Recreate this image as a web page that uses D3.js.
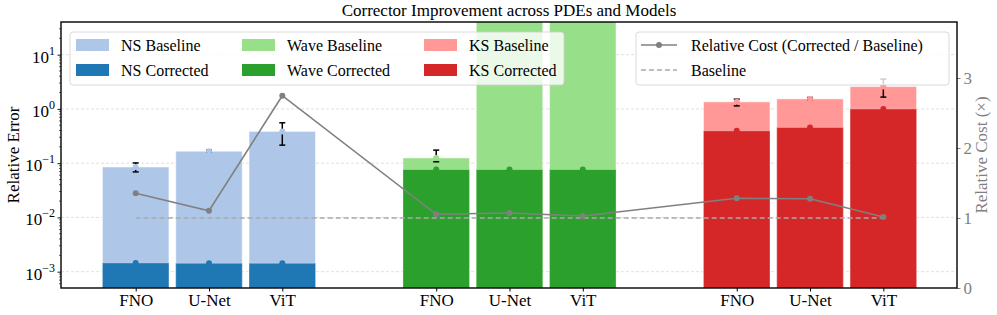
<!DOCTYPE html>
<html>
<head>
<meta charset="utf-8">
<script src="https://cdn.jsdelivr.net/npm/d3@7"></script>
<style>
  body { margin: 0; background: #fff; }
  svg { display: block; font-family: "Liberation Serif", "DejaVu Serif", serif; }
</style>
</head>
<body>
<svg id="chart"></svg>
<script>
const width = 997
const height = 315
const margin = { top: 22, right: 40, bottom: 27, left: 61 }

// data
const pdes = ['NS', 'Wave', 'KS']
const models = ['FNO', 'U-Net', 'ViT']
const baselineError = [
  [0.085, 0.166, 0.385],
  [0.125, 150, 150],
  [1.35, 1.53, 2.58]
]
const correctedError = [
  [0.00145, 0.00143, 0.00143],
  [0.0765, 0.0765, 0.0765],
  [0.395, 0.456, 1.0]
]
// error bar ranges [lo, hi] on the baseline values
const baselineRange = [
  [[0.069, 0.101], [0.159, 0.174], [0.215, 0.555]],
  [[0.106, 0.174], null, null],
  [[1.136, 1.51], [1.47, 1.62], [1.65, 3.55]]
]
const relativeCost = [
  [1.353, 1.104, 2.747],
  [1.053, 1.071, 1.029],
  [1.281, 1.276, 1.014]
]
const errorTicks = [1e-3, 1e-2, 1e-1, 1e0, 1e1]
const costTicks = [0, 1, 2, 3]

const lightColors = ['#aec7e8', '#98df8a', '#ff9896']
const darkColors = ['#1f77b4', '#2ca02c', '#d62728']
const costColor = '#808080'

const groupStep = 4.1
const rows = []
pdes.forEach((p, g) => {
  models.forEach((m, i) => {
    rows.push({
      pde: p, g, model: m, pos: g * groupStep + i,
      base: baselineError[g][i], corr: correctedError[g][i],
      range: baselineRange[g][i], cost: relativeCost[g][i]
    })
  })
})

const x = d3.scaleLinear().domain([-1.019, 11.205]).range([margin.left, width - margin.right])
const y = d3.scaleLog().domain([5e-4, 40]).range([height - margin.bottom, margin.top])
const yCost = d3.scaleLinear().domain([0, 3.8]).range([height - margin.bottom, margin.top])
const barW = x(0.907) - x(0)

const svg = d3.select('#chart').attr('width', width).attr('height', height)

svg.append('defs').append('clipPath').attr('id', 'plot-clip')
  .append('rect')
  .attr('x', margin.left).attr('y', margin.top)
  .attr('width', width - margin.left - margin.right)
  .attr('height', height - margin.top - margin.bottom)

// grid
svg.append('g').selectAll('line')
  .data(errorTicks)
  .enter().append('line')
  .attr('x1', margin.left).attr('x2', width - margin.right)
  .attr('y1', d => y(d)).attr('y2', d => y(d))
  .attr('stroke', '#d8d8d8').attr('stroke-width', 0.8)
  .attr('stroke-dasharray', '3,2')

const plot = svg.append('g').attr('clip-path', 'url(#plot-clip)')

plot.append('g').selectAll('rect')
  .data(rows)
  .enter().append('rect')
  .attr('x', d => x(d.pos) - barW / 2)
  .attr('width', barW)
  .attr('y', d => y(d.base))
  .attr('height', d => y.range()[0] - y(d.base))
  .attr('fill', d => lightColors[d.g])
  .attr('stroke', '#fff').attr('stroke-opacity', 0.5).attr('stroke-width', 1)

plot.append('g').selectAll('rect')
  .data(rows)
  .enter().append('rect')
  .attr('x', d => x(d.pos) - barW / 2)
  .attr('width', barW)
  .attr('y', d => y(d.corr))
  .attr('height', d => y.range()[0] - y(d.corr))
  .attr('fill', d => darkColors[d.g])
  .attr('stroke', '#fff').attr('stroke-opacity', 0.3).attr('stroke-width', 1)

// error bars
const err = plot.append('g').attr('stroke', '#000').attr('stroke-width', 1.5)
rows.filter(d => d.range).forEach(d => {
  const cx = x(d.pos)
  err.append('line').attr('x1', cx).attr('x2', cx).attr('y1', y(d.range[0])).attr('y2', y(d.range[1]))
  err.append('line').attr('x1', cx - 3).attr('x2', cx + 3).attr('y1', y(d.range[0])).attr('y2', y(d.range[0]))
  err.append('line').attr('x1', cx - 3).attr('x2', cx + 3).attr('y1', y(d.range[1])).attr('y2', y(d.range[1]))
})

// value dots
plot.append('g').selectAll('circle')
  .data(rows)
  .enter().append('circle')
  .attr('cx', d => x(d.pos)).attr('cy', d => y(d.base)).attr('r', 3)
  .attr('fill', d => lightColors[d.g])
plot.append('g').selectAll('circle')
  .data(rows)
  .enter().append('circle')
  .attr('cx', d => x(d.pos)).attr('cy', d => y(d.corr)).attr('r', 3)
  .attr('fill', d => darkColors[d.g])

// cost line
const first = rows[0].pos
const last = rows[rows.length - 1].pos
svg.append('line')
  .attr('x1', x(first)).attr('x2', x(last))
  .attr('y1', yCost(1)).attr('y2', yCost(1))
  .attr('stroke', '#aaaaaa').attr('stroke-width', 1.3)
  .attr('stroke-dasharray', '5,3')

svg.append('path')
  .datum(rows)
  .attr('fill', 'none')
  .attr('stroke', costColor).attr('stroke-width', 1.6)
  .attr('d', d3.line().x(d => x(d.pos)).y(d => yCost(d.cost)))
svg.append('g').selectAll('circle')
  .data(rows)
  .enter().append('circle')
  .attr('cx', d => x(d.pos)).attr('cy', d => yCost(d.cost)).attr('r', 3)
  .attr('fill', costColor)

// left axis
const yAxis = d3.axisLeft(y).tickValues(errorTicks).tickSize(3.5).tickFormat('')
const ga = svg.append('g').attr('transform', `translate(${margin.left},0)`).call(yAxis)
ga.select('.domain').remove()
ga.selectAll('line').attr('stroke', '#000').attr('stroke-width', 0.9)
const minor = []
for (let e = -4; e <= 1; e++) {
  for (let k = 2; k <= 9; k++) {
    const v = k * Math.pow(10, e)
    if (v > y.domain()[0] && v < y.domain()[1]) minor.push(v)
  }
}
svg.append('g').selectAll('line')
  .data(minor)
  .enter().append('line')
  .attr('x1', margin.left - 2).attr('x2', margin.left)
  .attr('y1', d => y(d)).attr('y2', d => y(d))
  .attr('stroke', '#000').attr('stroke-width', 0.6)

const tl = svg.append('g').selectAll('text')
  .data(errorTicks)
  .enter().append('text')
  .attr('x', margin.left - 6)
  .attr('y', d => y(d) + 8)
  .attr('text-anchor', 'end')
  .attr('font-size', 17)
tl.append('tspan').text('10')
tl.append('tspan')
  .attr('font-size', 12).attr('dy', -8)
  .text(d => {
    const e = Math.round(Math.log10(d))
    return e < 0 ? '\u2212' + (-e) : String(e)
  })

svg.append('text')
  .attr('transform', `translate(19,${(margin.top + height - margin.bottom) / 2}) rotate(-90)`)
  .attr('text-anchor', 'middle')
  .attr('font-size', 17)
  .text('Relative Error')

// right axis
const gr = svg.append('g').attr('transform', `translate(${width - margin.right},0)`)
  .call(d3.axisRight(yCost).tickValues(costTicks).tickSize(3.5).tickPadding(3).tickFormat(d3.format('d')))
gr.select('.domain').remove()
gr.selectAll('line').attr('stroke', costColor)
gr.selectAll('text').attr('fill', costColor).attr('font-size', 17)
  .attr('font-family', '"Liberation Serif", serif')

svg.append('text')
  .attr('transform', `translate(987,${(margin.top + height - margin.bottom) / 2}) rotate(-90)`)
  .attr('text-anchor', 'middle')
  .attr('font-size', 17)
  .attr('fill', costColor)
  .text('Relative Cost (\u00d7)')

// bottom axis
const gb = svg.append('g').attr('transform', `translate(0,${height - margin.bottom})`)
  .call(d3.axisBottom(x).tickValues(rows.map(d => d.pos)).tickSize(3.5).tickPadding(2)
    .tickFormat((d, i) => rows[i].model))
gb.select('.domain').remove()
gb.selectAll('text').attr('font-size', 17).attr('fill', '#000')
  .attr('font-family', '"Liberation Serif", serif')

// frame
svg.append('rect')
  .attr('x', margin.left).attr('y', margin.top)
  .attr('width', width - margin.left - margin.right)
  .attr('height', height - margin.top - margin.bottom)
  .attr('fill', 'none').attr('stroke', '#000').attr('stroke-width', 1.4)

// title
svg.append('text')
  .attr('x', (margin.left + width - margin.right) / 2).attr('y', 16)
  .attr('text-anchor', 'middle').attr('font-size', 17)
  .text('Corrector Improvement across PDEs and Models')

// legend for bars
const leg1 = svg.append('g')
leg1.append('rect')
  .attr('x', 70).attr('y', 32).attr('width', 494).attr('height', 53).attr('rx', 3)
  .attr('fill', '#fff').attr('fill-opacity', 0.8)
  .attr('stroke', '#d0d0d0').attr('stroke-width', 0.8)
const legItems = []
pdes.forEach((p, g) => {
  legItems.push({ label: p + ' Baseline', color: lightColors[g], col: g, row: 0 })
  legItems.push({ label: p + ' Corrected', color: darkColors[g], col: g, row: 1 })
})
const colX = [76, 242, 424]
const le = leg1.selectAll('g.item')
  .data(legItems)
  .enter().append('g').attr('class', 'item')
  .attr('transform', d => `translate(${colX[d.col]},${45 + d.row * 25})`)
le.append('rect').attr('x', 0).attr('y', -6).attr('width', 33).attr('height', 12)
  .attr('fill', d => d.color)
le.append('text').attr('x', 45).attr('y', 5.5).attr('font-size', 16).text(d => d.label)

// legend for cost line
const leg2 = svg.append('g')
leg2.append('rect')
  .attr('x', 636).attr('y', 32).attr('width', 313).attr('height', 53).attr('rx', 3)
  .attr('fill', '#fff').attr('fill-opacity', 0.8)
  .attr('stroke', '#d0d0d0').attr('stroke-width', 0.8)
leg2.append('line').attr('x1', 641).attr('x2', 677).attr('y1', 45).attr('y2', 45)
  .attr('stroke', costColor).attr('stroke-width', 1.6)
leg2.append('circle').attr('cx', 659).attr('cy', 45).attr('r', 3).attr('fill', costColor)
leg2.append('text').attr('x', 691).attr('y', 50.5).attr('font-size', 16)
  .text('Relative Cost (Corrected / Baseline)')
leg2.append('line').attr('x1', 641).attr('x2', 677).attr('y1', 70).attr('y2', 70)
  .attr('stroke', '#aaaaaa').attr('stroke-width', 1.3).attr('stroke-dasharray', '5,3')
leg2.append('text').attr('x', 691).attr('y', 75.5).attr('font-size', 16).text('Baseline')
</script>
</body>
</html>
